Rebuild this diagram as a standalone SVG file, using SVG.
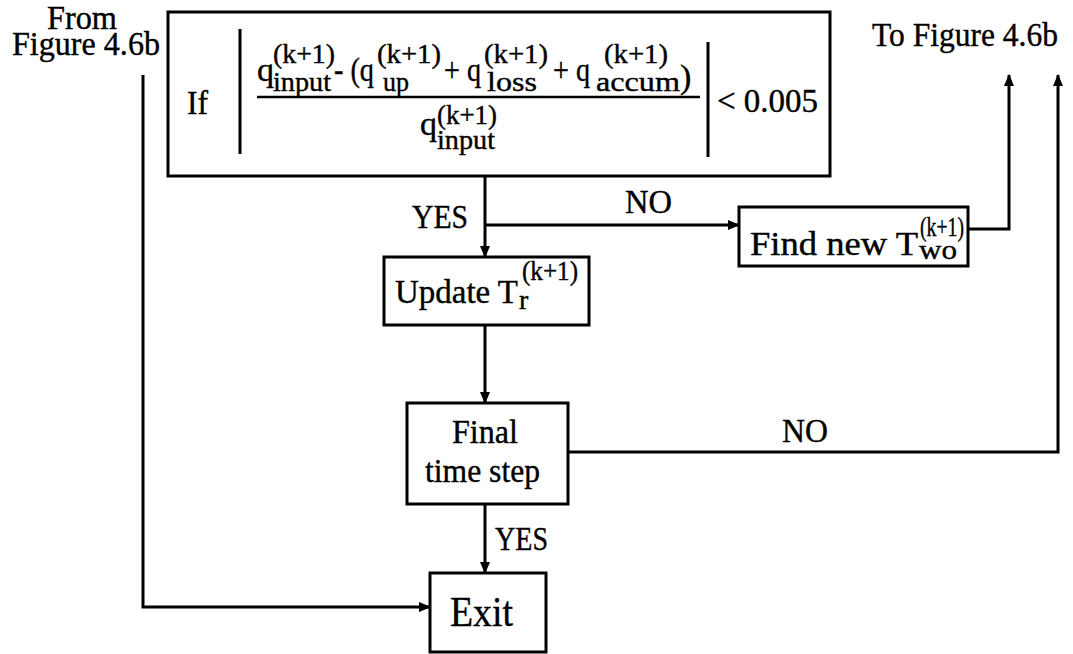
<svg xmlns="http://www.w3.org/2000/svg" width="1073" height="654" viewBox="0 0 1073 654" font-family="'Liberation Serif', 'DejaVu Serif', serif">
<defs>
<style>
text{font-family:'Liberation Serif','DejaVu Serif',serif;fill:#000;stroke:#000;stroke-width:0.4}
.lbl{font-size:34px}
.m{font-size:34px}
.s{font-size:28px}
.box{fill:none;stroke:#000;stroke-width:3}
.ln{fill:none;stroke:#000;stroke-width:3}
.conn{fill:none;stroke:#000;stroke-width:3;marker-end:url(#ah)}
</style>
<marker id="ah" viewBox="0 0 12 10" refX="11" refY="5" markerWidth="12" markerHeight="10" markerUnits="userSpaceOnUse" orient="auto">
<path d="M0,0 L12,5 L0,10 Z" fill="#000"/>
</marker>
</defs>
<rect width="1073" height="654" fill="#fff"/>

<g id="from-label">
<text class="lbl" x="47" y="29" textLength="70" lengthAdjust="spacingAndGlyphs">From</text>
<text class="lbl" x="12" y="55" textLength="148" lengthAdjust="spacingAndGlyphs">Figure 4.6b</text>
</g>
<g id="to-label">
<text class="lbl" x="872" y="46" textLength="186" lengthAdjust="spacingAndGlyphs">To Figure 4.6b</text>
</g>

<g id="condition">
<rect class="box" x="168" y="12" width="662" height="164"/>
<text class="m" x="187" y="114" textLength="21" lengthAdjust="spacingAndGlyphs">If</text>
<line class="ln" x1="240" y1="29" x2="240" y2="154"/>
<line class="ln" x1="708" y1="42" x2="708" y2="157"/>
<line x1="257" y1="97" x2="700" y2="97" stroke="#000" stroke-width="2.5"/>
<text class="m" x="257" y="81">q</text>
<text class="s" x="273" y="63" textLength="62" lengthAdjust="spacingAndGlyphs">(k+1)</text>
<text class="s" x="273" y="91" textLength="58" lengthAdjust="spacingAndGlyphs">input</text>
<text class="m" x="334" y="81" textLength="40" lengthAdjust="spacingAndGlyphs">- (q</text>
<text class="s" x="377" y="63" textLength="64" lengthAdjust="spacingAndGlyphs">(k+1)</text>
<text class="s" x="383" y="91" textLength="26" lengthAdjust="spacingAndGlyphs">up</text>
<text class="m" x="444" y="81" textLength="37" lengthAdjust="spacingAndGlyphs">+ q</text>
<text class="s" x="484" y="63" textLength="64" lengthAdjust="spacingAndGlyphs">(k+1)</text>
<text class="s" x="487" y="91" textLength="50" lengthAdjust="spacingAndGlyphs">loss</text>
<text class="m" x="553" y="81" textLength="37" lengthAdjust="spacingAndGlyphs">+ q</text>
<text class="s" x="604" y="63" textLength="64" lengthAdjust="spacingAndGlyphs">(k+1)</text>
<text class="s" x="596" y="91" textLength="84" lengthAdjust="spacingAndGlyphs">accum</text>
<text class="m" x="680" y="88">)</text>
<text class="m" x="420" y="135">q</text>
<text class="s" x="437" y="124" textLength="60" lengthAdjust="spacingAndGlyphs">(k+1)</text>
<text class="s" x="437" y="149" textLength="58" lengthAdjust="spacingAndGlyphs">input</text>
<text class="m" x="717" y="112" textLength="101" lengthAdjust="spacingAndGlyphs">&lt; 0.005</text>
</g>

<g id="find-new">
<rect class="box" x="739" y="207" width="229" height="59"/>
<text class="lbl" x="750" y="255" textLength="168" lengthAdjust="spacingAndGlyphs">Find new T</text>
<text class="s" x="920" y="236" textLength="44" lengthAdjust="spacingAndGlyphs">(k+1)</text>
<text class="s" x="919" y="259" textLength="38" lengthAdjust="spacingAndGlyphs">wo</text>
</g>

<g id="update">
<rect class="box" x="384" y="257" width="205" height="68"/>
<text class="lbl" x="395" y="303" textLength="123" lengthAdjust="spacingAndGlyphs">Update T</text>
<text class="s" x="522" y="280" textLength="56" lengthAdjust="spacingAndGlyphs">(k+1)</text>
<text class="s" x="519" y="309">r</text>
</g>

<g id="final">
<rect class="box" x="407" y="403" width="161" height="101"/>
<text class="lbl" x="452" y="443" textLength="66" lengthAdjust="spacingAndGlyphs">Final</text>
<text class="lbl" x="425" y="482" textLength="115" lengthAdjust="spacingAndGlyphs">time step</text>
</g>

<g id="exit">
<rect class="box" x="430" y="573" width="116" height="79"/>
<text x="450" y="626" style="font-size:42px" textLength="63" lengthAdjust="spacingAndGlyphs">Exit</text>
</g>

<g id="connectors">
<polyline class="conn" points="143,75 143,607 430,607"/>
<line class="conn" x1="485" y1="176" x2="485" y2="257"/>
<line class="conn" x1="485" y1="225" x2="739" y2="225"/>
<polyline class="conn" points="968,229 1009,229 1009,75"/>
<line class="conn" x1="485" y1="325" x2="485" y2="403"/>
<polyline class="conn" points="568,452 1058,452 1058,75"/>
<line class="conn" x1="485" y1="504" x2="485" y2="573"/>
<text class="lbl" x="412" y="228" textLength="56" lengthAdjust="spacingAndGlyphs">YES</text>
<text class="lbl" x="625" y="213" textLength="47" lengthAdjust="spacingAndGlyphs">NO</text>
<text class="lbl" x="782" y="442" textLength="46" lengthAdjust="spacingAndGlyphs">NO</text>
<text class="lbl" x="495" y="550" textLength="53" lengthAdjust="spacingAndGlyphs">YES</text>
</g>
</svg>
